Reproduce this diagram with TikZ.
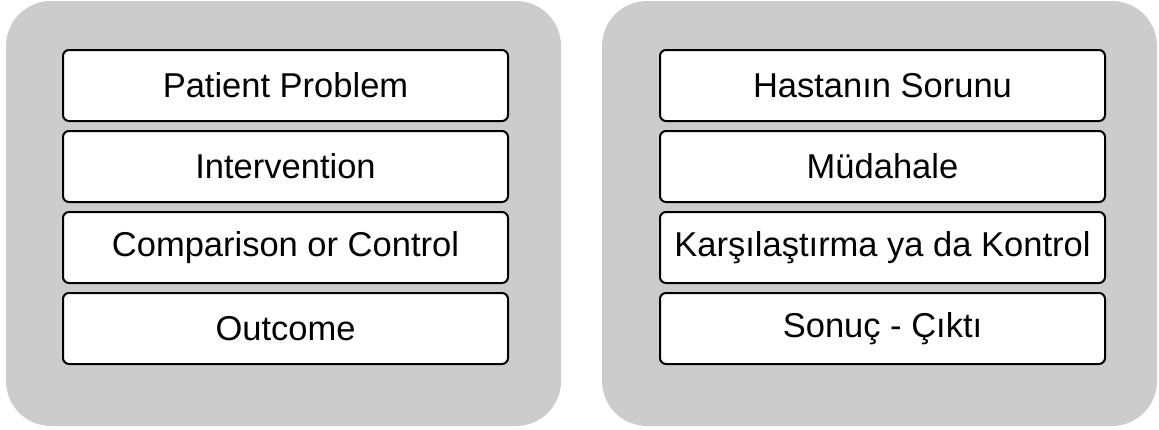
\documentclass[tikz,border=0pt]{standalone}
\usepackage{fontspec}
\setmainfont{Liberation Sans}
\definecolor{panelgray}{HTML}{CCCCCC}
\tikzset{
  panel/.style={fill=panelgray, draw=none, rounded corners=45pt},
  item/.style={draw=black, line width=2pt, fill=white, rounded corners=6pt,
    minimum width=445pt, minimum height=71pt, inner sep=0pt, anchor=north west,
    font=\fontsize{34.5}{40}\selectfont},
}
\begin{document}
\begin{tikzpicture}[x=1pt,y=-1pt]
\useasboundingbox (0,0) rectangle (1159,429);
\path[panel] (6,1) rectangle (561,426);
\path[panel] (602,1) rectangle (1157,426);
\node[item] (l1) at (62,49) {Patient Problem};
\node[item] (l2) at (62,130) {Intervention};
\node[item] (l3) at (62,211) {Comparison or Control};
\node[item] (l4) at (62,292) {Outcome};
\node[item] (r1) at (659,49) {Hastanın Sorunu};
\node[item] (r2) at (659,130) {Müdahale};
\node[item] (r3) at (659,211) {Karşılaştırma ya da Kontrol};
\node[item] (r4) at (659,292) {Sonuç - Çıktı};
\end{tikzpicture}
\end{document}
